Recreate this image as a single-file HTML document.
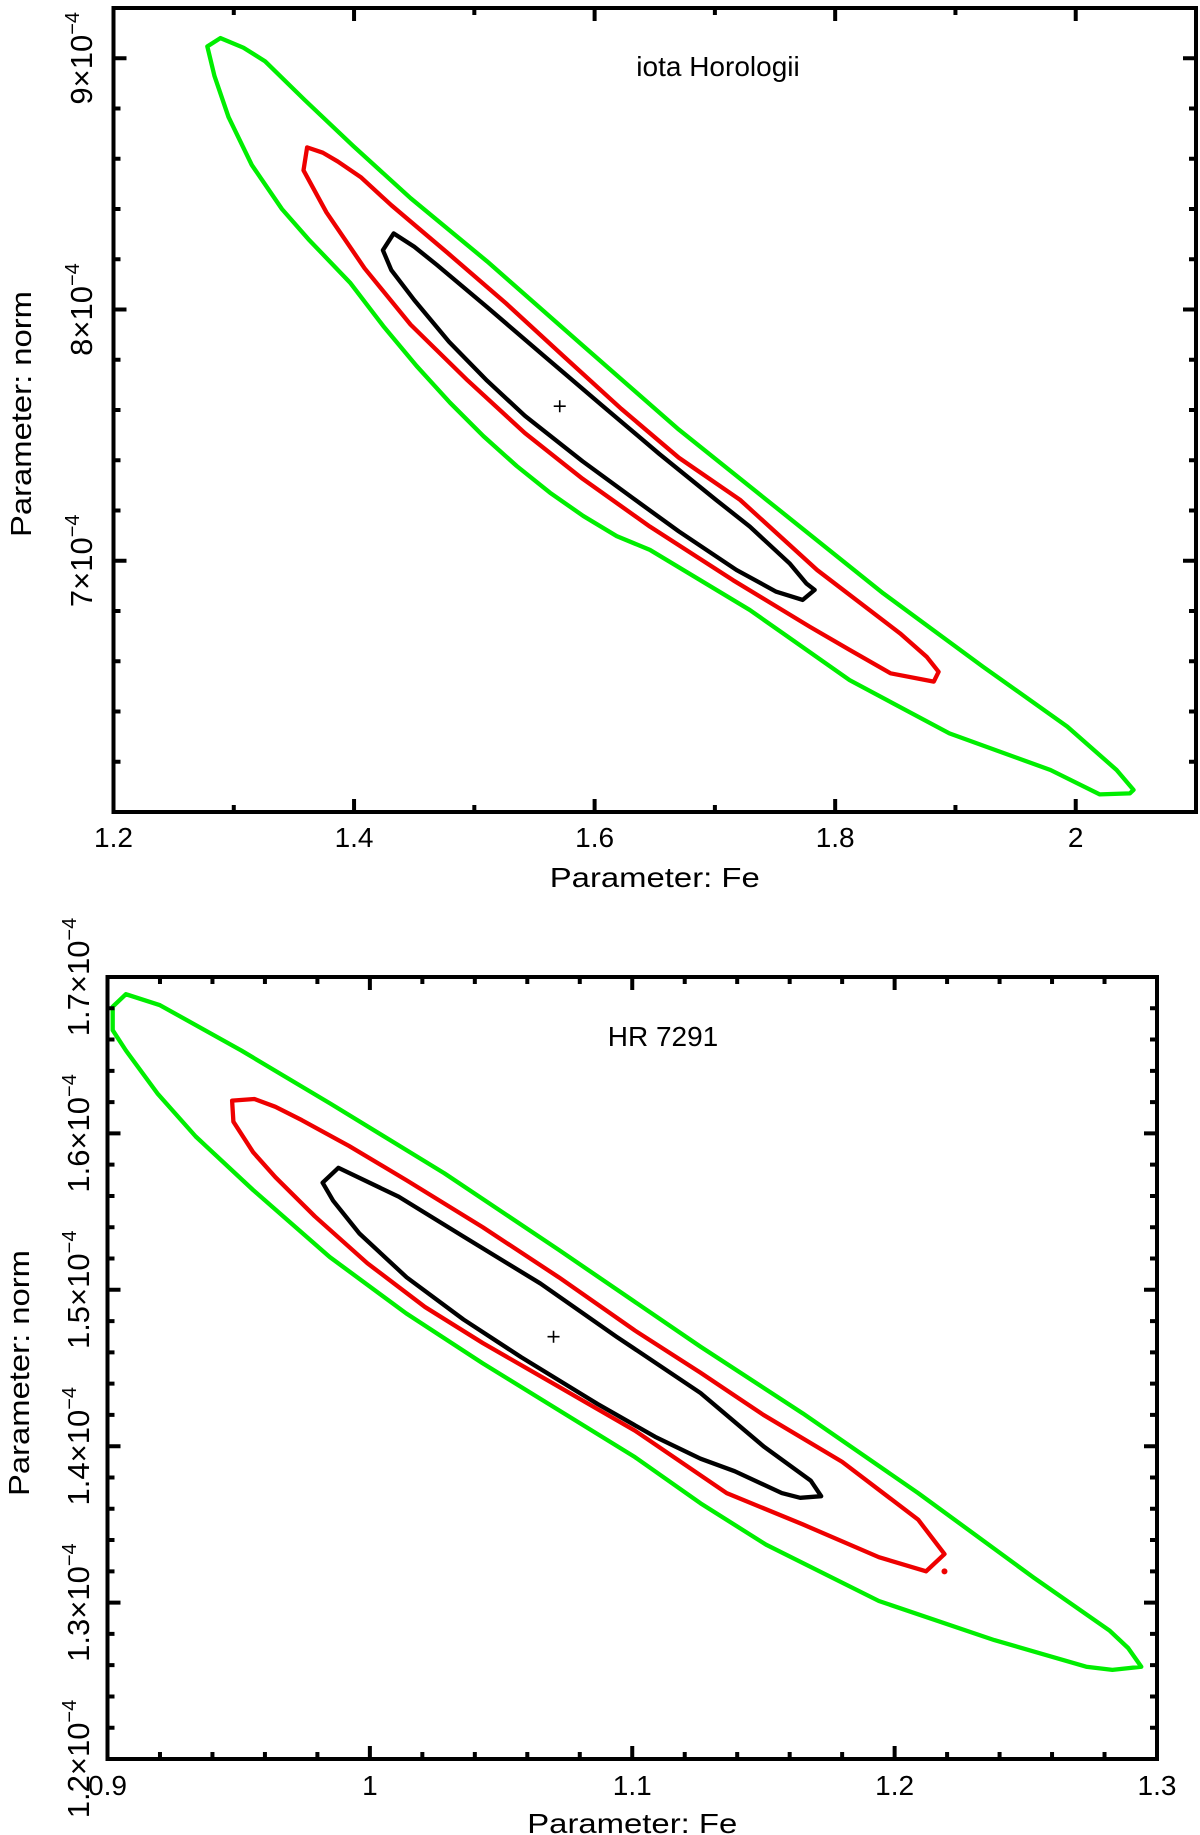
<!DOCTYPE html>
<html><head><meta charset="utf-8"><style>
html,body{margin:0;padding:0;background:#fff}
svg{display:block}
text{font-family:"Liberation Sans",Arial,sans-serif;fill:#000}
</style></head>
<body>
<svg id="fig" width="1200" height="1835" viewBox="0 0 1200 1835" xmlns="http://www.w3.org/2000/svg"></svg>
<script>
// ---------- Panel 1: iota Horologii ----------
const p1XTicks = [1.2, 1.4, 1.6, 1.8, 2.0];
const p1XTickLabels = ["1.2", "1.4", "1.6", "1.8", "2"];
const p1YTicks = [7, 8, 9];
const p1YTickLabels = ["7", "8", "9"];
const p1Best = [1.571, 7.615];
const p1GreenX = [1.278,1.289,1.308,1.326,1.359,1.399,1.447,1.5105,1.590,1.670,1.743,1.840,1.923,1.993,2.034,2.048,2.045,2.020,1.979,1.895,1.812,1.729,1.646,1.6184,1.5906,1.5629,1.5352,1.5075,1.4798,1.452,1.4243,1.3966,1.362,1.340,1.315,1.2956,1.284];
const p1GreenY = [9.047,9.080,9.042,8.988,8.834,8.652,8.443,8.192,7.857,7.522,7.242,6.870,6.578,6.340,6.167,6.088,6.074,6.070,6.167,6.313,6.525,6.804,7.043,7.098,7.178,7.271,7.377,7.496,7.629,7.775,7.934,8.107,8.280,8.400,8.575,8.766,8.929];
const p1RedX = [1.361,1.374,1.3865,1.4055,1.431,1.479,1.5265,1.574,1.622,1.670,1.721,1.785,1.854,1.876,1.886,1.882,1.846,1.812,1.779,1.715,1.646,1.590,1.542,1.4946,1.447,1.4088,1.377,1.358];
const p1RedY = [8.645,8.624,8.589,8.527,8.415,8.220,8.024,7.815,7.605,7.410,7.242,6.963,6.711,6.618,6.558,6.519,6.552,6.645,6.737,6.923,7.136,7.326,7.508,7.717,7.940,8.164,8.387,8.554];
const p1BlackX = [1.433,1.450,1.469,1.5105,1.558,1.606,1.654,1.701,1.729,1.762,1.776,1.783,1.773,1.751,1.718,1.670,1.638,1.590,1.542,1.5105,1.479,1.450,1.431,1.424];
const p1BlackY = [8.303,8.250,8.177,8.010,7.815,7.619,7.424,7.242,7.136,6.990,6.910,6.884,6.844,6.877,6.963,7.117,7.228,7.396,7.577,7.717,7.871,8.038,8.157,8.236];

// ---------- Panel 2: HR 7291 ----------
const p2XTicks = [0.9, 1.0, 1.1, 1.2, 1.3];
const p2XTickLabels = ["0.9", "1", "1.1", "1.2", "1.3"];
const p2YTicks = [1.2, 1.3, 1.4, 1.5, 1.6, 1.7];
const p2YTickLabels = ["1.2", "1.3", "1.4", "1.5", "1.6", "1.7"];
const p2Best = [1.07, 1.47];
const p2GreenX = [0.902,0.907,0.920,0.951,0.985,1.0284,1.072,1.126,1.165,1.209,1.253,1.282,1.289,1.294,1.283,1.273,1.238,1.194,1.151,1.126,1.101,1.072,1.043,1.0138,0.9847,0.9555,0.9336,0.919,0.907,0.902];
const p2GreenY = [1.681,1.689,1.682,1.653,1.619,1.5745,1.5255,1.4636,1.421,1.370,1.316,1.282,1.271,1.259,1.257,1.259,1.276,1.301,1.337,1.3635,1.393,1.423,1.453,1.485,1.521,1.5638,1.598,1.6256,1.653,1.666];
const p2RedX = [0.9475,0.956,0.964,0.974,0.992,1.014,1.043,1.072,1.101,1.126,1.150,1.180,1.209,1.219,1.212,1.194,1.165,1.136,1.101,1.072,1.043,1.021,0.999,0.979,0.964,0.9555,0.948];
const p2RedY = [1.621,1.622,1.617,1.6085,1.592,1.570,1.540,1.508,1.474,1.447,1.420,1.390,1.353,1.331,1.320,1.329,1.350,1.370,1.410,1.438,1.466,1.489,1.517,1.547,1.572,1.588,1.6075];
const p2RedDot = [1.219, 1.320];
const p2BlackX = [0.988,1.011,1.0357,1.065,1.094,1.126,1.150,1.168,1.172,1.164,1.157,1.139,1.126,1.1087,1.0868,1.0576,1.0357,1.014,0.996,0.986,0.982];
const p2BlackY = [1.578,1.5595,1.534,1.504,1.470,1.434,1.400,1.378,1.368,1.367,1.370,1.384,1.392,1.406,1.427,1.457,1.481,1.508,1.536,1.557,1.5685];

const NS = "http://www.w3.org/2000/svg";
const svg = document.getElementById('fig');
function mk(tag, attrs, parent) {
  const e = document.createElementNS(NS, tag);
  for (const k in attrs) e.setAttribute(k, attrs[k]);
  (parent || svg).appendChild(e);
  return e;
}

function panel(cfg) {
  const g = mk('g', {});
  
  
  const sx = v => cfg.L + (v - cfg.x0) / (cfg.x1 - cfg.x0) * (cfg.R - cfg.L);
  const sy = v => cfg.B - (v - cfg.y0) / (cfg.y1 - cfg.y0) * (cfg.B - cfg.T);

  function contour(xs, ys, color, name) {
    const pts = xs.map((x, i) => sx(x).toFixed(1) + ',' + sy(ys[i]).toFixed(1)).join(' ');
    const p = mk('polygon', {points: pts, fill: 'none', stroke: color, 'stroke-width': 4.3, 'stroke-linejoin': 'round'}, g);
    
    
  }
  contour(cfg.gx, cfg.gy, '#00ee00', 'contour-99pct');
  contour(cfg.rx, cfg.ry, '#ee0000', 'contour-90pct');
  contour(cfg.bx, cfg.by, '#000000', 'contour-68pct');
  if (cfg.dot) {
    const d = mk('circle', {cx: sx(cfg.dot[0]), cy: sy(cfg.dot[1]), r: 3, fill: '#ee0000'}, g);
    
    
  }
  const bx = sx(cfg.best[0]), by = sy(cfg.best[1]);
  const bf = mk('path', {d: `M${bx-6},${by}H${bx+6}M${bx},${by-6}V${by+6}`, stroke: '#000', 'stroke-width': 1.6}, g);
  
  

  let td = '';
  const nxm = Math.round((cfg.x1 - cfg.x0) / cfg.xMinor);
  for (let i = 0; i <= nxm; i++) {
    const v = cfg.x0 + i * cfg.xMinor;
    const isMaj = cfg.xt.some(t => Math.abs(t - v) < 1e-6);
    const len = isMaj ? 13 : 7, x = sx(v);
    td += `M${x},${cfg.B}v${-len}M${x},${cfg.T}v${len}`;
  }
  const nym = Math.round((cfg.y1 - cfg.y0) / cfg.yMinor + 1e-6);
  for (let i = 0; i <= nym + 1; i++) {
    const v = cfg.y0 + i * cfg.yMinor;
    if (v > cfg.y1 + 1e-6) break;
    const isMaj = cfg.yt.some(t => Math.abs(t - v) < 1e-6);
    const len = isMaj ? 13 : 7, y = sy(v);
    td += `M${cfg.L},${y}h${len}M${cfg.R},${y}h${-len}`;
  }
  const tk = mk('path', {d: td, stroke: '#000', 'stroke-width': 4}, g);
  
  

  const fr = mk('rect', {x: cfg.L, y: cfg.T, width: cfg.R - cfg.L, height: cfg.B - cfg.T, fill: 'none', stroke: '#000', 'stroke-width': 4}, g);
  
  

  cfg.xt.forEach((v, i) => {
    const t = mk('text', {x: sx(v), y: cfg.xLabY, 'font-size': 28, 'text-anchor': 'middle'}, g);
    t.textContent = cfg.xl[i];
    
    
  });
  cfg.yt.forEach((v, i) => {
    const y = sy(v);
    const t = mk('text', {x: 0, y: 0, 'font-size': 31, 'text-anchor': 'middle', transform: `translate(${cfg.yLabX},${y}) rotate(-90)`}, g);
    
    
    const a = mk('tspan', {}, t); a.textContent = cfg.yl[i] + '\u00d710';
    const b = mk('tspan', {dy: -13, 'font-size': 20}, t); b.textContent = '\u22124';
  });
  const xt = mk('text', {x: (cfg.L + cfg.R) / 2 - 105, y: cfg.xTitleY, 'font-size': 28, textLength: 210, lengthAdjust: 'spacingAndGlyphs'}, g);
  xt.textContent = 'Parameter: Fe';
  
  
  const yt = mk('text', {x: -123, y: 0, 'font-size': 29, textLength: 246, lengthAdjust: 'spacingAndGlyphs', transform: `translate(${cfg.yTitleX},${cfg.yTitleCY}) rotate(-90)`}, g);
  yt.textContent = 'Parameter: norm';
  
  
  const an = mk('text', {x: cfg.annX, y: cfg.annY, 'font-size': 28, 'text-anchor': 'middle'}, g);
  an.textContent = cfg.ann;
  
  
}

panel({name: 'panel-iota-horologii', L: 113.5, R: 1196, T: 8, B: 812,
  x0: 1.2, x1: 2.1, y0: 6.0, y1: 9.2, xMinor: 0.1, yMinor: 0.2,
  xt: p1XTicks, xl: p1XTickLabels, yt: p1YTicks, yl: p1YTickLabels,
  gx: p1GreenX, gy: p1GreenY, rx: p1RedX, ry: p1RedY, bx: p1BlackX, by: p1BlackY,
  best: p1Best, xLabY: 847, xTitleY: 887, yLabX: 92, yTitleX: 31, yTitleCY: 414,
  ann: 'iota Horologii', annX: 718, annY: 76});

panel({name: 'panel-hr-7291', L: 107.5, R: 1157, T: 977, B: 1759,
  x0: 0.9, x1: 1.3, y0: 1.2, y1: 1.7, xMinor: 0.02, yMinor: 0.02,
  xt: p2XTicks, xl: p2XTickLabels, yt: p2YTicks, yl: p2YTickLabels,
  gx: p2GreenX, gy: p2GreenY, rx: p2RedX, ry: p2RedY, bx: p2BlackX, by: p2BlackY, dot: p2RedDot,
  best: p2Best, xLabY: 1795, xTitleY: 1833, yLabX: 89, yTitleX: 29, yTitleCY: 1373,
  ann: 'HR 7291', annX: 663, annY: 1046});
</script>
</body></html>
